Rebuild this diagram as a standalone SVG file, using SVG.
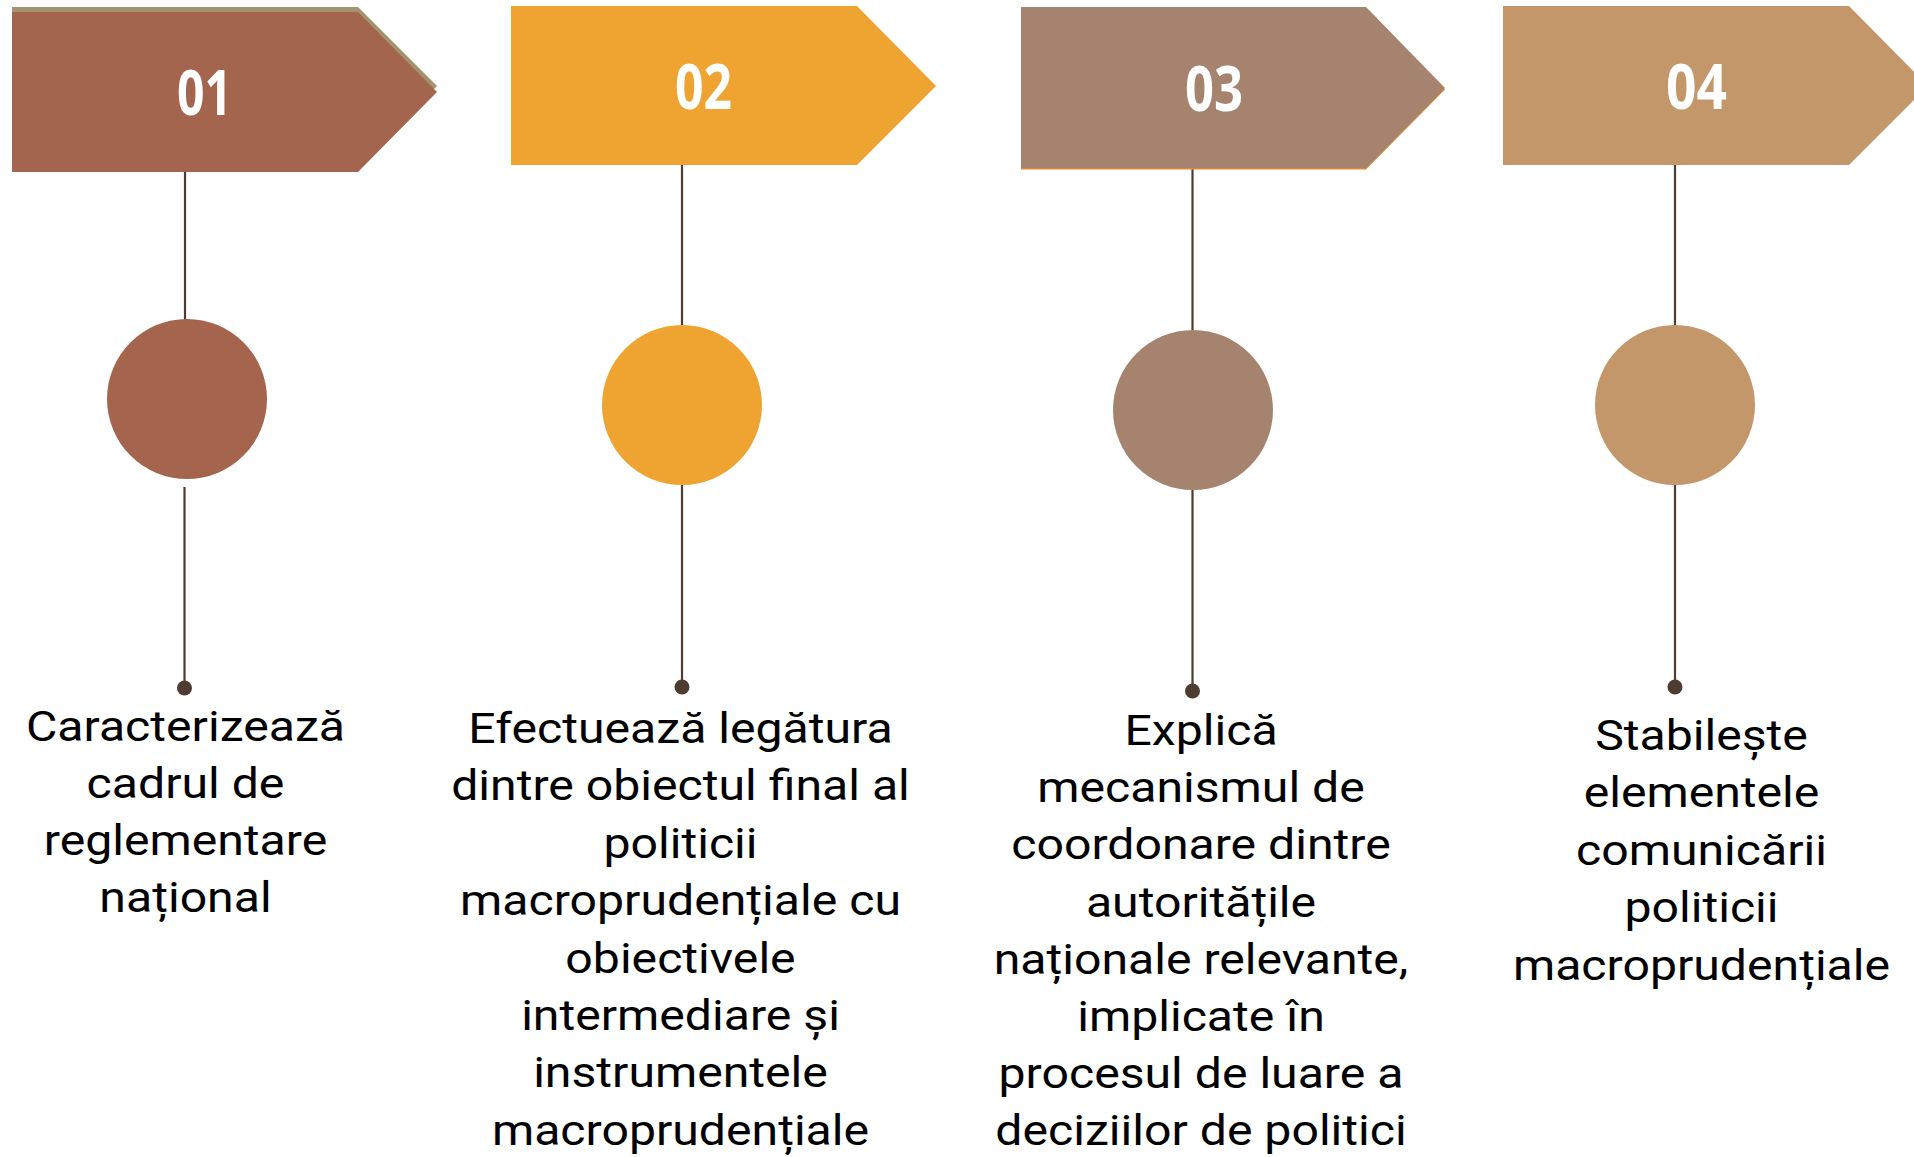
<svg xmlns="http://www.w3.org/2000/svg" width="1914" height="1157" viewBox="0 0 1914 1157">
<style>
.num{font-family:"Open Sans","Liberation Sans",sans-serif;font-weight:700;font-size:62px;fill:#ffffff;text-anchor:middle}
.body{font-family:Roboto,"Liberation Sans",sans-serif;font-size:42px;fill:#000000;text-anchor:middle}
.ln{stroke:#4e3c30;stroke-width:2.2;fill:none}
.dot{fill:#4e3c30}
</style>
<rect width="1914" height="1157" fill="#ffffff"/>
<g id="connectors">
<line class="ln" x1="185" y1="172" x2="185" y2="320"/>
<line class="ln" x1="184.5" y1="487" x2="184.5" y2="688"/>
<circle class="dot" cx="184.5" cy="688" r="7.5"/>
<line class="ln" x1="682" y1="165" x2="682" y2="326"/>
<line class="ln" x1="682" y1="485" x2="682" y2="687"/>
<circle class="dot" cx="682" cy="687" r="7.5"/>
<line class="ln" x1="1192.5" y1="168" x2="1192.5" y2="331"/>
<line class="ln" x1="1192.5" y1="490" x2="1192.5" y2="691"/>
<circle class="dot" cx="1192.5" cy="691" r="7.5"/>
<line class="ln" x1="1675" y1="165" x2="1675" y2="326"/>
<line class="ln" x1="1675" y1="485" x2="1675" y2="687"/>
<circle class="dot" cx="1675" cy="687" r="7.5"/>
</g>
<g id="node-01">
<polygon points="12,7 358,7 437,86 358,165 12,165" fill="#a39470"/>
<polygon points="12,12 358,12 437,92 358,172 12,172" fill="#a4654e"/>
<text class="num" x="204.5" y="115" textLength="55" lengthAdjust="spacingAndGlyphs">01</text>
<circle cx="187" cy="399" r="80" fill="#a4644d"/>
<text class="body" transform="matrix(1.147,0,0,1,185.5,0)"><tspan x="0" y="741">Caracterizează</tspan><tspan x="0" y="798">cadrul de</tspan><tspan x="0" y="855">reglementare</tspan><tspan x="0" y="912">național</tspan></text>
</g>
<g id="node-02">
<polygon points="511,6 857,6 936,86 857,165 511,165" fill="#efa431"/>
<text class="num" x="703.5" y="109" textLength="57" lengthAdjust="spacingAndGlyphs">02</text>
<circle cx="682" cy="405" r="80" fill="#efa431"/>
<text class="body" transform="matrix(1.147,0,0,1,680.5,0)"><tspan x="0" y="743">Efectuează legătura</tspan><tspan x="0" y="800.4">dintre obiectul final al</tspan><tspan x="0" y="857.8">politicii</tspan><tspan x="0" y="915.2">macroprudențiale cu</tspan><tspan x="0" y="972.6">obiectivele</tspan><tspan x="0" y="1030">intermediare și</tspan><tspan x="0" y="1087.4">instrumentele</tspan><tspan x="0" y="1144.8">macroprudențiale</tspan></text>
</g>
<g id="node-03">
<polygon points="1021,8.5 1366,8.5 1445,89.5 1366,169.5 1021,169.5" fill="#d98a3a"/>
<polygon points="1021,7 1366,7 1445,88 1366,168 1021,168" fill="#a6836e"/>
<text class="num" x="1214" y="111" textLength="58" lengthAdjust="spacingAndGlyphs">03</text>
<circle cx="1193" cy="410" r="80" fill="#a6836e"/>
<text class="body" transform="matrix(1.147,0,0,1,1201,0)"><tspan x="0" y="745">Explică</tspan><tspan x="0" y="802.2">mecanismul de</tspan><tspan x="0" y="859.4">coordonare dintre</tspan><tspan x="0" y="916.6">autoritățile</tspan><tspan x="0" y="973.8">naționale relevante,</tspan><tspan x="0" y="1031">implicate în</tspan><tspan x="0" y="1088.2">procesul de luare a</tspan><tspan x="0" y="1145.4">deciziilor de politici</tspan></text>
</g>
<g id="node-04">
<polygon points="1503,6 1849,6 1928,86 1849,165 1503,165" fill="#c4976b"/>
<text class="num" x="1696.5" y="109" textLength="61" lengthAdjust="spacingAndGlyphs">04</text>
<circle cx="1675" cy="405" r="80" fill="#c4976b"/>
<text class="body" transform="matrix(1.147,0,0,1,1701.5,0)"><tspan x="0" y="750">Stabilește</tspan><tspan x="0" y="807.5">elementele</tspan><tspan x="0" y="865">comunicării</tspan><tspan x="0" y="922.5">politicii</tspan><tspan x="0" y="980">macroprudențiale</tspan></text>
</g>
</svg>
